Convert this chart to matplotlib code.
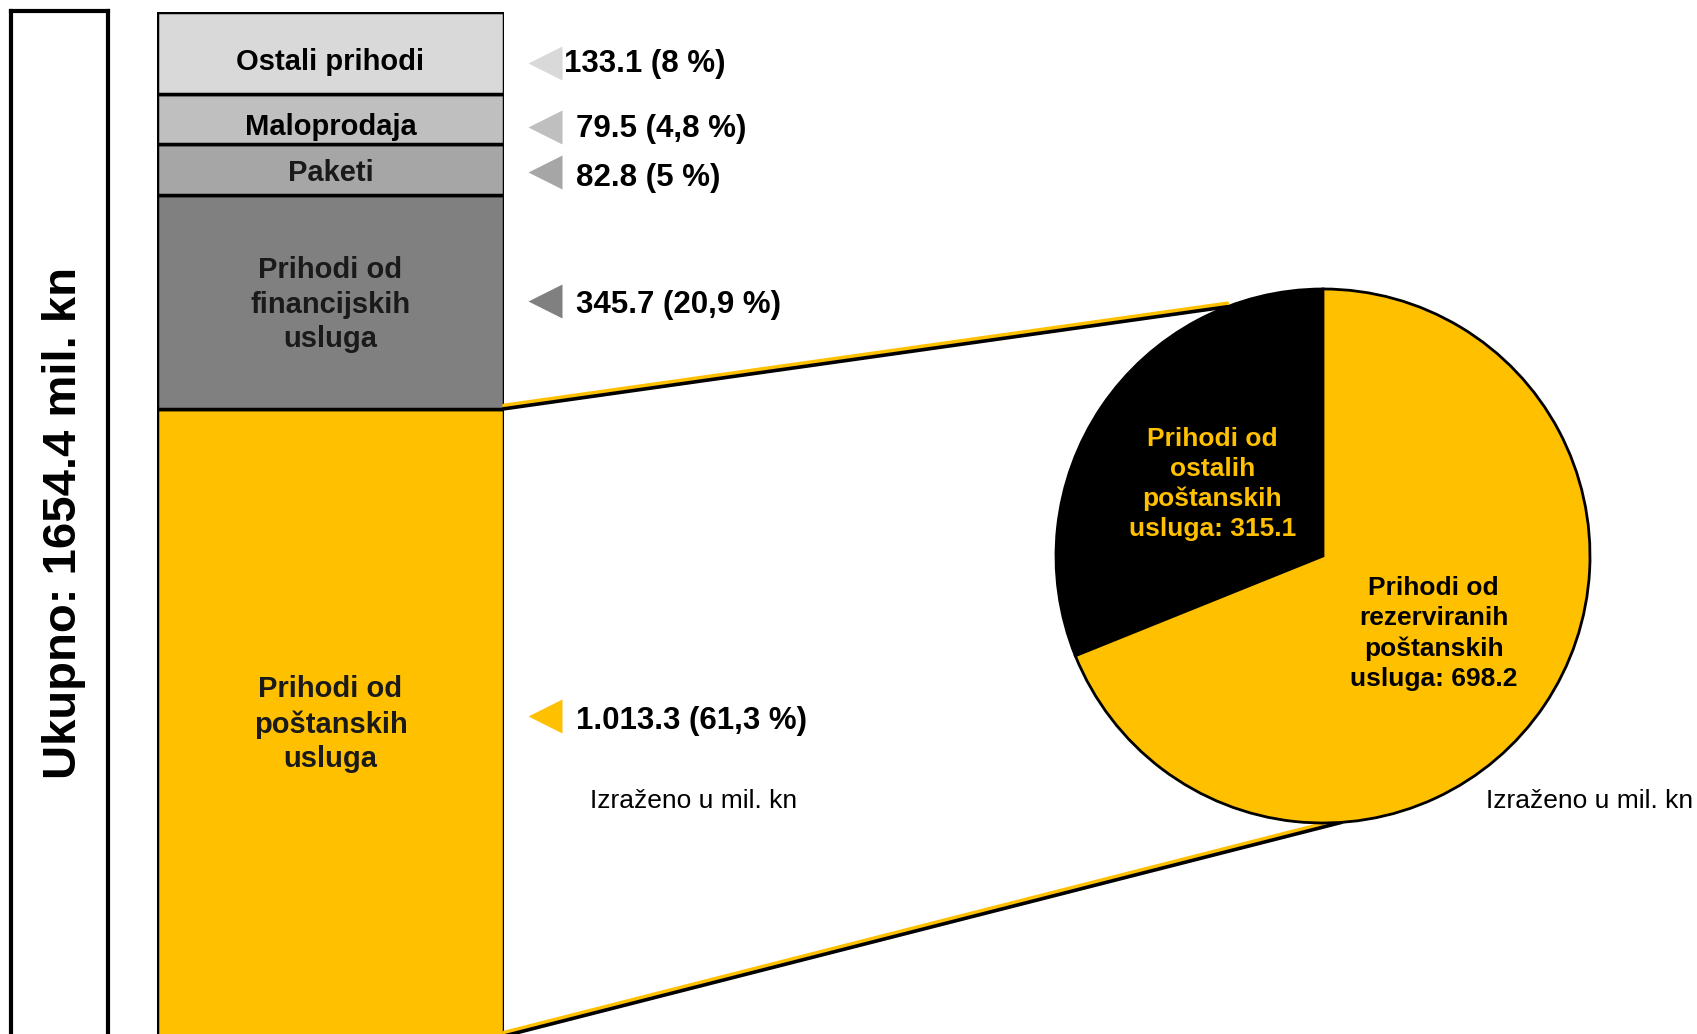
import numpy as np
import matplotlib
matplotlib.use("Agg")
import matplotlib.pyplot as plt
import matplotlib.patheffects as pe
from matplotlib.patches import ConnectionPatch
from matplotlib.transforms import blended_transform_factory, ScaledTranslation

plt.rcParams['font.family'] = ['Liberation Sans', 'DejaVu Sans']

# prihodi, odozdo prema gore (mil. kn)
segments = ["Prihodi od\npoštanskih\nusluga", "Prihodi od\nfinancijskih\nusluga",
            "Paketi", "Maloprodaja", "Ostali prihodi"]
amounts = [1013.3, 345.7, 82.8, 79.5, 133.1]
amount_labels = ["1.013.3 (61,3 %)", "345.7 (20,9 %)", "82.8 (5 %)",
                 "79.5 (4,8 %)", "133.1 (8 %)"]

# raspodjela poštanskih usluga
postal_parts = ["Prihodi od\nostalih\npoštanskih\nusluga: 315.1",
                "Prihodi od\nrezerviranih\npoštanskih\nusluga: 698.2"]
postal_amounts = [315.1, 698.2]

YELLOW = '#ffc000'
seg_colors = [YELLOW, '#808080', '#a6a6a6', '#bfbfbf', '#d9d9d9']
seg_text = ['#1a1a1a', '#1a1a1a', '#1a1a1a', 'black', 'black']
label_x = [1.207, 1.207, 1.207, 1.207, 1.173]
# small vertical nudges (px, downwards) for names, arrows and values
name_dy = [2, 3, 4, 8, 9]
arrow_dy = [-6, -1, 3, 8, 10]
value_dy = [-1, 3, 9, 10, 11]

W, H = 1697, 1034
fig = plt.figure(figsize=(W / 100, H / 100), dpi=100)


def px_axes(x0, y0, x1, y1, **kw):
    # axes placed by pixel box, origin top-left
    return fig.add_axes([x0 / W, 1 - y1 / H, (x1 - x0) / W, (y1 - y0) / H], **kw)


# okvir s ukupnim iznosom
box = px_axes(11, 11, 108, 1045)
box.set_xticks([])
box.set_yticks([])
for s in box.spines.values():
    s.set_linewidth(3)
box.text(0.55, 0.505, "Ukupno: %.1f mil. kn" % sum(amounts), rotation=90,
         ha='center', va='center', fontsize=34, fontweight='bold',
         transform=box.transAxes)

# stupac
bar = px_axes(157, 12, 504, 1036)
bottoms = np.concatenate([[0], np.cumsum(amounts)[:-1]])
centers = bottoms + np.array(amounts) / 2
bar.bar(0, amounts, bottom=bottoms, width=1, color=seg_colors,
        edgecolor='black', linewidth=2.5)
bar.set_xlim(-0.5, 0.5)
bar.set_ylim(0, sum(amounts))
bar.axis('off')

trans = blended_transform_factory(bar.transAxes, bar.transData)
for i, c in enumerate(centers):
    bar.annotate(segments[i], xy=(0.5, c), xycoords=trans,
                 xytext=(0, -0.72 * name_dy[i]), textcoords='offset points',
                 ha='center', va='center', fontsize=21, fontweight='bold',
                 color=seg_text[i], linespacing=1.3)
    shift = ScaledTranslation(0, -arrow_dy[i] / 100, fig.dpi_scale_trans)
    bar.plot([1.118], [c], marker='<', ms=24, color=seg_colors[i], mec='none',
             transform=trans + shift, clip_on=False)
    bar.annotate(amount_labels[i], xy=(label_x[i], c), xycoords=trans,
                 xytext=(0, -0.72 * value_dy[i]), textcoords='offset points',
                 ha='left', va='center', fontsize=22.5, fontweight='bold')

# pita
R = 267
pie = px_axes(1323 - 280, 556 - 280, 1323 + 280, 556 + 280, zorder=2)
wedges, _ = pie.pie(postal_amounts, colors=['black', YELLOW], startangle=90,
                    radius=1, wedgeprops=dict(edgecolor='black', linewidth=2))
lim = 280 / R
pie.set_xlim(-lim, lim)
pie.set_ylim(-lim, lim)
pie.axis('off')
pie.patch.set_visible(False)

for w, txt, col in zip(wedges, postal_parts, [YELLOW, 'black']):
    ang = np.deg2rad((w.theta1 + w.theta2) / 2)
    pie.text(0.5 * np.cos(ang), 0.5 * np.sin(ang) - 0.01, txt, ha='center',
             va='center', fontsize=19, fontweight='bold', color=col,
             linespacing=1.32)

# spojnice stupca i pite
for ya, ang in [(amounts[0], 111), (0, -86)]:
    t = np.deg2rad(ang)
    con = ConnectionPatch(xyA=(0.5, ya), coordsA=bar.transData,
                          xyB=(np.cos(t), np.sin(t)), coordsB=pie.transData,
                          color='black', lw=2.6, zorder=1.5,
                          path_effects=[pe.Stroke(offset=(0, 2.4), linewidth=2.8,
                                                  foreground=YELLOW),
                                        pe.Normal()])
    fig.add_artist(con)

fig.text(694 / W, 1 - 801 / H, "Izraženo u mil. kn", ha='center', va='center',
         fontsize=19)
fig.text(1590 / W, 1 - 801 / H, "Izraženo u mil. kn", ha='center', va='center',
         fontsize=19)

fig.savefig('out.png', dpi=100)
